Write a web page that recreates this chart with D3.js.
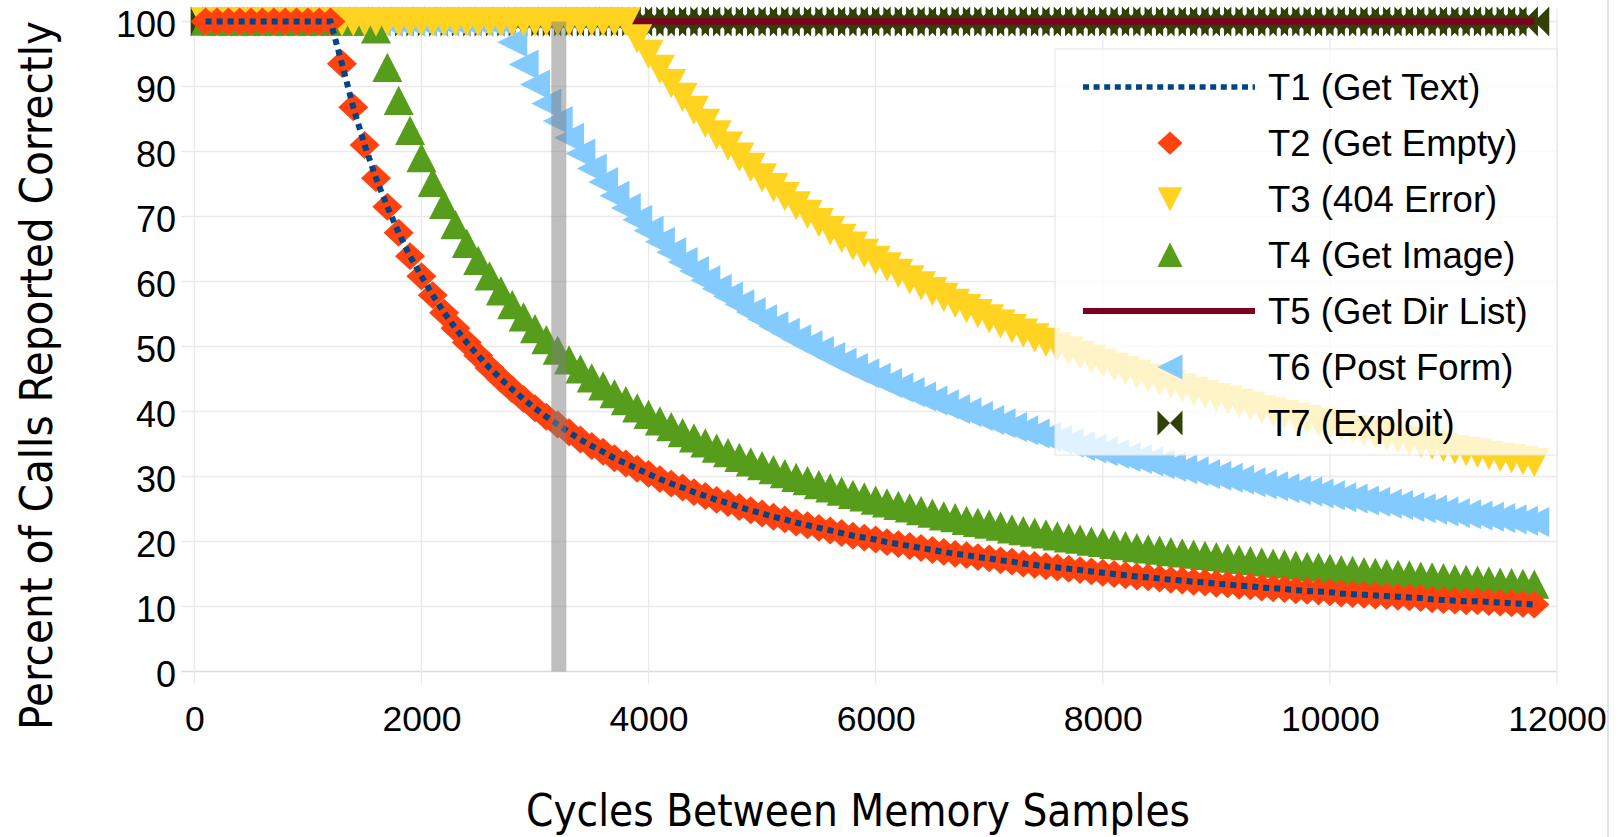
<!DOCTYPE html>
<html>
<head>
<meta charset="utf-8">
<script src="https://cdn.jsdelivr.net/npm/d3@7"></script>
<style>
  html, body { margin: 0; padding: 0; background: #ffffff; }
  svg { display: block; }
</style>
</head>
<body>
<svg id="chart" width="1623" height="837"></svg>
<script>
// ---------------- DATA ----------------
const cycles = [
  100,200,300,400,500,600,700,800,900,1000,
  1100,1200,1300,1400,1500,1600,1700,1800,1900,2000,
  2100,2200,2300,2400,2500,2600,2700,2800,2900,3000,
  3100,3200,3300,3400,3500,3600,3700,3800,3900,4000,
  4100,4200,4300,4400,4500,4600,4700,4800,4900,5000,
  5100,5200,5300,5400,5500,5600,5700,5800,5900,6000,
  6100,6200,6300,6400,6500,6600,6700,6800,6900,7000,
  7100,7200,7300,7400,7500,7600,7700,7800,7900,8000,
  8100,8200,8300,8400,8500,8600,8700,8800,8900,9000,
  9100,9200,9300,9400,9500,9600,9700,9800,9900,10000,
  10100,10200,10300,10400,10500,10600,10700,10800,10900,11000,
  11100,11200,11300,11400,11500,11600,11700,11800
];

const t1GetText = [
  100,100,100,100,100,100,100,100,100,100,
  100,100,93.5,86.8,81.0,75.9,71.5,67.5,63.9,60.8,
  57.9,55.2,52.8,50.6,48.6,46.7,45.0,43.4,41.9,40.5,
  39.2,38.0,36.8,35.7,34.7,33.8,32.8,32.0,31.2,30.4,
  29.6,28.9,28.3,27.6,27.0,26.4,25.9,25.3,24.8,24.3,
  23.8,23.4,22.9,22.5,22.1,21.7,21.3,20.9,20.6,20.3,
  19.9,19.6,19.3,19.0,18.7,18.4,18.1,17.9,17.6,17.4,
  17.1,16.9,16.6,16.4,16.2,16.0,15.8,15.6,15.4,15.2,
  15.0,14.8,14.6,14.5,14.3,14.1,14.0,13.8,13.7,13.5,
  13.4,13.2,13.1,12.9,12.8,12.7,12.5,12.4,12.3,12.2,
  12.0,11.9,11.8,11.7,11.6,11.5,11.4,11.3,11.1,11.0,
  10.9,10.8,10.8,10.7,10.6,10.5,10.4,10.3
];

const t2GetEmpty = [
  100,100,100,100,100,100,100,100,100,100,
  100,100,93.5,86.8,81.0,75.9,71.5,67.5,63.9,60.8,
  57.9,55.2,52.8,50.6,48.6,46.7,45.0,43.4,41.9,40.5,
  39.2,38.0,36.8,35.7,34.7,33.8,32.8,32.0,31.2,30.4,
  29.6,28.9,28.3,27.6,27.0,26.4,25.9,25.3,24.8,24.3,
  23.8,23.4,22.9,22.5,22.1,21.7,21.3,20.9,20.6,20.3,
  19.9,19.6,19.3,19.0,18.7,18.4,18.1,17.9,17.6,17.4,
  17.1,16.9,16.6,16.4,16.2,16.0,15.8,15.6,15.4,15.2,
  15.0,14.8,14.6,14.5,14.3,14.1,14.0,13.8,13.7,13.5,
  13.4,13.2,13.1,12.9,12.8,12.7,12.5,12.4,12.3,12.2,
  12.0,11.9,11.8,11.7,11.6,11.5,11.4,11.3,11.1,11.0,
  10.9,10.8,10.8,10.7,10.6,10.5,10.4,10.3
];

const t3Error404 = [
  100,100,100,100,100,100,100,100,100,100,
  100,100,100,100,100,100,100,100,100,100,
  100,100,100,100,100,100,100,100,100,100,
  100,100,100,100,100,100,100,100,97.4,95.0,
  92.7,90.5,88.4,86.4,84.4,82.6,80.9,79.2,77.6,76.0,
  74.5,73.1,71.7,70.4,69.1,67.9,66.7,65.5,64.4,63.3,
  62.3,61.3,60.3,59.4,58.5,57.6,56.7,55.9,55.1,54.3,
  53.5,52.8,52.1,51.4,50.7,50.0,49.4,48.7,48.1,47.5,
  46.9,46.3,45.8,45.2,44.7,44.2,43.7,43.2,42.7,42.2,
  41.8,41.3,40.9,40.4,40.0,39.6,39.2,38.8,38.4,38.0,
  37.6,37.3,36.9,36.5,36.2,35.8,35.5,35.2,34.9,34.5,
  34.2,33.9,33.6,33.3,33.0,32.8,32.5,32.2
];

const t4GetImage = [
  100,100,100,100,100,100,100,100,100,100,
  100,100,100,100,100,98.8,92.9,87.8,83.2,79.0,
  75.2,71.8,68.7,65.8,63.2,60.8,58.5,56.4,54.5,52.7,
  51.0,49.4,47.9,46.5,45.1,43.9,42.7,41.6,40.5,39.5,
  38.5,37.6,36.7,35.9,35.1,34.3,33.6,32.9,32.2,31.6,
  31.0,30.4,29.8,29.3,28.7,28.2,27.7,27.2,26.8,26.3,
  25.9,25.5,25.1,24.7,24.3,23.9,23.6,23.2,22.9,22.6,
  22.3,21.9,21.6,21.4,21.1,20.8,20.5,20.3,20.0,19.8,
  19.5,19.3,19.0,18.8,18.6,18.4,18.2,18.0,17.8,17.6,
  17.4,17.2,17.0,16.8,16.6,16.5,16.3,16.1,16.0,15.8,
  15.6,15.5,15.3,15.2,15.0,14.9,14.8,14.6,14.5,14.4,
  14.2,14.1,14.0,13.9,13.7,13.6,13.5,13.4
];

const t5GetDirList = [
  100,100,100,100,100,100,100,100,100,100,
  100,100,100,100,100,100,100,100,100,100,
  100,100,100,100,100,100,100,100,100,100,
  100,100,100,100,100,100,100,100,100,100,
  100,100,100,100,100,100,100,100,100,100,
  100,100,100,100,100,100,100,100,100,100,
  100,100,100,100,100,100,100,100,100,100,
  100,100,100,100,100,100,100,100,100,100,
  100,100,100,100,100,100,100,100,100,100,
  100,100,100,100,100,100,100,100,100,100,
  100,100,100,100,100,100,100,100,100,100,
  100,100,100,100,100,100,100,100
];

const t6PostForm = [
  100,100,100,100,100,100,100,100,100,100,
  100,100,100,100,100,100,100,100,100,100,
  100,100,100,100,100,100,100,96.8,93.4,90.3,
  87.4,84.7,82.1,79.7,77.4,75.3,73.2,71.3,69.5,67.8,
  66.1,64.5,63.0,61.6,60.2,58.9,57.7,56.5,55.3,54.2,
  53.1,52.1,51.1,50.2,49.3,48.4,47.5,46.7,45.9,45.2,
  44.4,43.7,43.0,42.3,41.7,41.1,40.4,39.9,39.3,38.7,
  38.2,37.6,37.1,36.6,36.1,35.7,35.2,34.7,34.3,33.9,
  33.5,33.0,32.7,32.3,31.9,31.5,31.1,30.8,30.4,30.1,
  29.8,29.5,29.1,28.8,28.5,28.2,27.9,27.7,27.4,27.1,
  26.8,26.6,26.3,26.1,25.8,25.6,25.3,25.1,24.9,24.6,
  24.4,24.2,24.0,23.8,23.6,23.4,23.2,23.0
];

const t7Exploit = [
  100,100,100,100,100,100,100,100,100,100,
  100,100,100,100,100,100,100,100,100,100,
  100,100,100,100,100,100,100,100,100,100,
  100,100,100,100,100,100,100,100,100,100,
  100,100,100,100,100,100,100,100,100,100,
  100,100,100,100,100,100,100,100,100,100,
  100,100,100,100,100,100,100,100,100,100,
  100,100,100,100,100,100,100,100,100,100,
  100,100,100,100,100,100,100,100,100,100,
  100,100,100,100,100,100,100,100,100,100,
  100,100,100,100,100,100,100,100,100,100,
  100,100,100,100,100,100,100,100
];

const seriesNames = ["T1 (Get Text)", "T2 (Get Empty)", "T3 (404 Error)", "T4 (Get Image)",
                     "T5 (Get Dir List)", "T6 (Post Form)", "T7 (Exploit)"];
const xTickValues = [0, 2000, 4000, 6000, 8000, 10000, 12000];
const yTickValues = [0, 10, 20, 30, 40, 50, 60, 70, 80, 90, 100];
const xDomain = [0, 12000];
const yDomain = [0, 100];
const highlightCycle = 3210;
const xTitle = "Cycles Between Memory Samples";
const yTitle = "Percent of Calls Reported Correctly";

// ---------------- STYLE ----------------
const seriesColors = ["#004586", "#ff420e", "#ffd320", "#579d1c", "#7e0021", "#83caff", "#314004"];
const seriesKinds  = ["dotted", "diamond", "down", "up", "line", "left", "bowtie"];
const seriesValues = [t1GetText, t2GetEmpty, t3Error404, t4GetImage, t5GetDirList, t6PostForm, t7Exploit];

const shapePath = {
  diamond: s => `M0,${-s*0.93}L${s},0L0,${s*0.93}L${-s},0Z`,
  down:    s => `M${-s},${-s*0.95}L${s},${-s*0.95}L0,${s}Z`,
  up:      s => `M0,${-s}L${s},${s*0.95}L${-s},${s*0.95}Z`,
  left:    s => `M${-s},0L${s},${-s}L${s},${s}Z`,
  bowtie:  s => `M${-s},${-s}L0,0L${-s},${s}Z M${s},${-s}L0,0L${s},${s}Z`
};

const svg = d3.select("#chart");
svg.append("rect").attr("width", 1623).attr("height", 837).attr("fill", "#ffffff");

const x = d3.scaleLinear().domain(xDomain).range([194.3, 1557]);
const y = d3.scaleLinear().domain(yDomain).range([671.5, 21.5]);
const ext = 13;

// grid
const grid = svg.append("g");
grid.selectAll("line.h").data(yTickValues).join("line")
  .attr("x1", x(xDomain[0]) - ext).attr("x2", x(xDomain[1]))
  .attr("y1", d => y(d)).attr("y2", d => y(d))
  .attr("stroke", d => d === 0 ? "#dcdcdc" : "#e9e9e9").attr("stroke-width", 1.3);
grid.selectAll("line.v").data(xTickValues).join("line")
  .attr("x1", d => x(d)).attr("x2", d => x(d))
  .attr("y1", y(yDomain[1]) - ext).attr("y2", y(yDomain[0]) + ext)
  .attr("stroke", "#e9e9e9").attr("stroke-width", 1.3);

// series (drawn last-to-first so T1 ends on top)
const plot = svg.append("g");
const lineGen = d3.line().x((d, i) => x(cycles[i])).y(d => y(d));
for (let k = seriesValues.length - 1; k >= 0; k--) {
  const kind = seriesKinds[k], col = seriesColors[k], vals = seriesValues[k];
  if (kind === "dotted") {
    plot.append("path").datum(vals).attr("d", lineGen)
      .attr("fill", "none").attr("stroke", col).attr("stroke-width", 6)
      .attr("stroke-dasharray", "6,5");
  } else if (kind === "line") {
    plot.append("path").datum(vals).attr("d", lineGen)
      .attr("fill", "none").attr("stroke", col).attr("stroke-width", 6.5);
  } else {
    plot.append("g").selectAll("path").data(vals).join("path")
      .attr("transform", (d, i) => `translate(${x(cycles[i])},${y(d)})`)
      .attr("d", shapePath[kind](15))
      .attr("fill", col);
  }
}

// highlight bar
svg.append("rect")
  .attr("x", x(highlightCycle) - 7.5).attr("width", 15)
  .attr("y", y(yDomain[1])).attr("height", y(yDomain[0]) - y(yDomain[1]))
  .attr("fill", "#808080").attr("fill-opacity", 0.5);

// legend
const lg = svg.append("g");
lg.append("rect").attr("x", 1055).attr("y", 49).attr("width", 502).attr("height", 406)
  .attr("fill", "#ffffff").attr("fill-opacity", 0.75).attr("stroke", "#e4e4e4").attr("stroke-width", 1);
seriesNames.forEach((name, i) => {
  const base = 100 + 56 * i, cy = base - 13;
  const kind = seriesKinds[i], col = seriesColors[i];
  if (kind === "dotted") {
    lg.append("line").attr("x1", 1083).attr("x2", 1255).attr("y1", cy).attr("y2", cy)
      .attr("stroke", col).attr("stroke-width", 5.5).attr("stroke-dasharray", "6,4.6");
  } else if (kind === "line") {
    lg.append("line").attr("x1", 1083).attr("x2", 1255).attr("y1", cy).attr("y2", cy)
      .attr("stroke", col).attr("stroke-width", 6);
  } else {
    lg.append("path").attr("transform", `translate(1170,${cy})`)
      .attr("d", shapePath[kind](12.5)).attr("fill", col);
  }
  lg.append("text").attr("x", 1268).attr("y", base)
    .attr("font-family", "'Liberation Sans', Arial, sans-serif").attr("font-size", 36.5)
    .attr("fill", "#000").text(name);
});

// axes labels via d3 axes
const yAxis = svg.append("g").attr("transform", "translate(176,0)")
  .call(d3.axisLeft(y).tickValues(yTickValues).tickFormat(d3.format("d")).tickSize(0).tickPadding(0));
yAxis.select(".domain").remove();
yAxis.selectAll("text").attr("x", 0).attr("dy", 0).attr("transform", "translate(0,15)")
  .attr("font-family", "'Liberation Sans', Arial, sans-serif").attr("font-size", 36).attr("fill", "#000");

const xAxis = svg.append("g").attr("transform", "translate(0,731)")
  .call(d3.axisBottom(x).tickValues(xTickValues).tickFormat(d3.format("d")).tickSize(0).tickPadding(0));
xAxis.select(".domain").remove();
xAxis.selectAll("text").attr("y", 0).attr("dy", 0)
  .attr("font-family", "'Liberation Sans', Arial, sans-serif").attr("font-size", 35.5).attr("fill", "#000");

// titles
svg.append("text").attr("x", 858).attr("y", 826).attr("text-anchor", "middle")
  .attr("font-family", "'DejaVu Sans Condensed', 'DejaVu Sans', sans-serif").attr("font-size", 44)
  .attr("textLength", 664).attr("lengthAdjust", "spacingAndGlyphs").attr("fill", "#000")
  .text(xTitle);
svg.append("text").attr("transform", "translate(52,375.5) rotate(-90)").attr("text-anchor", "middle")
  .attr("font-family", "'DejaVu Sans Condensed', 'DejaVu Sans', sans-serif").attr("font-size", 44)
  .attr("textLength", 709).attr("lengthAdjust", "spacingAndGlyphs").attr("fill", "#000")
  .text(yTitle);

// right frame line
svg.append("line").attr("x1", 1608).attr("x2", 1608).attr("y1", 0).attr("y2", 837)
  .attr("stroke", "#cfcfcf").attr("stroke-width", 1.2);
</script>
</body>
</html>
